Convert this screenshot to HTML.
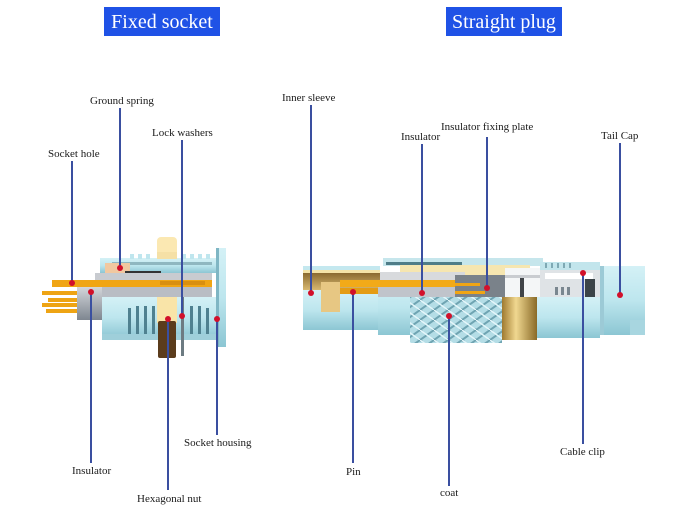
<!DOCTYPE html>
<html><head><meta charset="utf-8"><style>
html,body{margin:0;padding:0;background:#fff;}
svg{display:block;}
.l{font-family:"Liberation Serif",serif;font-size:11px;fill:#1a1a1a;}
.h{font-family:"Liberation Serif",serif;font-size:20px;fill:#fff;}
.ln{stroke:#3a4fa0;stroke-width:2;}
.d{fill:#d2102a;}
</style></head><body>
<svg width="680" height="509" viewBox="0 0 680 509" xmlns="http://www.w3.org/2000/svg">
<defs>
<linearGradient id="blu" x1="0" y1="0" x2="0" y2="1"><stop offset="0" stop-color="#d4f1f6"/><stop offset="0.5" stop-color="#bde6ee"/><stop offset="1" stop-color="#8cc6d3"/></linearGradient>
<linearGradient id="gry" x1="0" y1="0" x2="0" y2="1"><stop offset="0" stop-color="#d3d6da"/><stop offset="1" stop-color="#7e8690"/></linearGradient>
<linearGradient id="brs" x1="0" y1="0" x2="1" y2="0"><stop offset="0" stop-color="#a07a30"/><stop offset="0.4" stop-color="#f0d890"/><stop offset="1" stop-color="#8a6a28"/></linearGradient>
<linearGradient id="gold" x1="0" y1="0" x2="0" y2="1"><stop offset="0" stop-color="#8a6a30"/><stop offset="1" stop-color="#d8b870"/></linearGradient>
<pattern id="knurl" width="14" height="10" patternUnits="userSpaceOnUse">
<rect width="14" height="10" fill="#b4dde6"/>
<path d="M0 10 L14 0 M-3 3 L4 -2 M10 12 L17 7" stroke="#6fa4b2" stroke-width="2"/>
<path d="M0 0 L14 10" stroke="#e4f6fa" stroke-width="1.5"/>
</pattern>
</defs>

<!-- headers -->
<rect x="104" y="7" width="116" height="29" fill="#1f52e6"/>
<text class="h" x="162" y="28" text-anchor="middle">Fixed socket</text>
<rect x="446" y="7" width="116" height="29" fill="#1f52e6"/>
<text class="h" x="504" y="28" text-anchor="middle">Straight plug</text>

<!-- ============ FIXED SOCKET ============ -->
<!-- hex nut top -->
<rect x="157" y="237" width="20" height="22" rx="4" fill="#fbe8b2"/>
<!-- housing top thread -->
<rect x="100" y="258" width="122" height="15" fill="url(#blu)"/>
<g fill="#bfe6ee">
<rect x="130" y="254" width="4" height="5"/><rect x="138" y="254" width="4" height="5"/><rect x="146" y="254" width="4" height="5"/>
<rect x="182" y="254" width="4" height="5"/><rect x="190" y="254" width="4" height="5"/><rect x="198" y="254" width="4" height="5"/><rect x="206" y="254" width="4" height="5"/>
</g>
<rect x="157" y="252" width="20" height="7" fill="#f5e0a6"/>
<rect x="112" y="262" width="100" height="3" fill="#8fb7c0"/>
<rect x="105" y="263" width="25" height="10" fill="#f1c8a0"/>
<rect x="125" y="271" width="36" height="2" fill="#333"/>
<!-- right flange -->
<rect x="216" y="248" width="10" height="99" fill="url(#blu)"/>
<rect x="216" y="248" width="3" height="99" fill="#7fb6c4"/>
<!-- gray band -->
<rect x="95" y="273" width="117" height="7" fill="#c8cbd0"/>
<!-- orange contact bar -->
<rect x="52" y="280" width="160" height="7" fill="#f0a514"/>
<rect x="160" y="281" width="45" height="4" fill="#d98f10"/>
<!-- insulator strip -->
<rect x="77" y="287" width="135" height="10" fill="#b9bdc4"/>
<!-- insulator block -->
<rect x="77" y="287" width="25" height="33" fill="url(#gry)"/>
<!-- pins -->
<g fill="#eea414">
<rect x="42" y="291" width="35" height="4"/>
<rect x="48" y="298" width="29" height="4"/>
<rect x="42" y="303" width="35" height="4"/>
<rect x="46" y="309" width="31" height="4"/>
</g>
<!-- lower housing -->
<rect x="102" y="297" width="114" height="41" fill="url(#blu)"/>
<g fill="#4f8190">
<rect x="128" y="308" width="3" height="30"/><rect x="136" y="306" width="3" height="32"/>
<rect x="144" y="306" width="3" height="32"/><rect x="152" y="306" width="3" height="32"/>
<rect x="190" y="306" width="3" height="32"/><rect x="198" y="306" width="3" height="32"/>
<rect x="206" y="308" width="3" height="30"/>
</g>
<rect x="102" y="334" width="114" height="6" fill="#9fcfda"/>
<!-- hex nut lower -->
<rect x="157" y="297" width="20" height="26" fill="#f9e4a8"/>
<rect x="158" y="321" width="18" height="37" rx="2" fill="#5b3c1c"/>
<!-- lock washer -->
<rect x="181" y="297" width="3" height="59" fill="#6d7b82"/>

<!-- socket connectors -->
<line class="ln" x1="120" y1="108" x2="120" y2="268"/>
<line class="ln" x1="182" y1="140" x2="182" y2="316"/>
<line class="ln" x1="72" y1="161" x2="72" y2="283"/>
<line class="ln" x1="91" y1="292" x2="91" y2="463"/>
<line class="ln" x1="168" y1="319" x2="168" y2="490"/>
<line class="ln" x1="217" y1="319" x2="217" y2="435"/>
<circle class="d" cx="72" cy="283" r="3"/>
<circle class="d" cx="120" cy="268" r="3"/>
<circle class="d" cx="91" cy="292" r="3"/>
<circle class="d" cx="168" cy="319" r="3"/>
<circle class="d" cx="182" cy="316" r="3"/>
<circle class="d" cx="217" cy="319" r="3"/>

<text class="l" x="90" y="104">Ground spring</text>
<text class="l" x="152" y="136">Lock washers</text>
<text class="l" x="48" y="157">Socket hole</text>
<text class="l" x="72" y="474">Insulator</text>
<text class="l" x="137" y="502">Hexagonal nut</text>
<text class="l" x="184" y="446">Socket housing</text>

<!-- ============ STRAIGHT PLUG ============ -->
<!-- top structure -->
<rect x="383" y="258" width="160" height="8" fill="#c6e6ec"/>
<rect x="386" y="262" width="76" height="3" fill="#4f7d88"/>
<rect x="400" y="265" width="130" height="10" fill="#f6e6b0"/>
<rect x="375" y="272" width="90" height="9" fill="#d8dadd"/>
<!-- left front tube -->
<rect x="303" y="266" width="77" height="6" fill="#c4e8ef"/>
<rect x="303" y="270" width="77" height="3" fill="#f4e4a8"/>
<rect x="303" y="273" width="77" height="17" fill="url(#gold)"/>
<rect x="303" y="290" width="77" height="40" fill="url(#blu)"/>
<!-- inner cream block -->
<rect x="321" y="282" width="19" height="30" fill="#e7c783"/>
<!-- middle tube -->
<rect x="378" y="281" width="34" height="54" fill="url(#blu)"/>
<!-- orange pin bars -->
<rect x="340" y="280" width="130" height="7" fill="#f2aa18"/>
<rect x="340" y="288" width="38" height="6" fill="#e49c14"/>
<!-- insulator -->
<rect x="378" y="287" width="77" height="10" fill="#c0c4cb"/>
<!-- dark interior -->
<rect x="455" y="275" width="50" height="22" fill="#7a828a"/>
<rect x="455" y="283" width="25" height="3" fill="#f0a514"/>
<rect x="455" y="291" width="30" height="3" fill="#f0a514"/>
<rect x="505" y="268" width="38" height="29" fill="#f4f6f7"/>
<rect x="520" y="276" width="4" height="21" fill="#404448"/>
<rect x="505" y="275" width="38" height="3" fill="#c9ccd0"/>
<!-- coat knurled -->
<rect x="410" y="297" width="92" height="46" fill="url(#knurl)"/>
<!-- brass -->
<rect x="502" y="297" width="35" height="43" fill="url(#brs)"/>
<!-- right tube -->
<rect x="537" y="297" width="63" height="41" fill="url(#blu)"/>
<!-- upper right area -->
<rect x="540" y="262" width="60" height="8" fill="#c2e5ec"/>
<g fill="#7fa9b4"><rect x="545" y="263" width="2" height="5"/><rect x="551" y="263" width="2" height="5"/><rect x="557" y="263" width="2" height="5"/><rect x="563" y="263" width="2" height="5"/><rect x="569" y="263" width="2" height="5"/></g>
<rect x="540" y="270" width="60" height="27" fill="#dfe3e6"/>
<rect x="545" y="273" width="48" height="6" fill="#ffffff"/>
<rect x="585" y="279" width="10" height="18" fill="#3c4448"/>
<g fill="#7a8790"><rect x="555" y="287" width="3" height="8"/><rect x="561" y="287" width="3" height="8"/><rect x="567" y="287" width="3" height="8"/></g>
<!-- tail cap -->
<rect x="600" y="266" width="45" height="69" fill="url(#blu)"/>
<rect x="600" y="266" width="4" height="69" fill="#9ccad6"/>
<rect x="630" y="320" width="15" height="15" fill="#a8d6e0"/>

<!-- plug connectors -->
<line class="ln" x1="311" y1="105" x2="311" y2="293"/>
<line class="ln" x1="422" y1="144" x2="422" y2="293"/>
<line class="ln" x1="487" y1="137" x2="487" y2="288"/>
<line class="ln" x1="620" y1="143" x2="620" y2="295"/>
<line class="ln" x1="353" y1="292" x2="353" y2="463"/>
<line class="ln" x1="449" y1="316" x2="449" y2="486"/>
<line class="ln" x1="583" y1="273" x2="583" y2="444"/>
<circle class="d" cx="311" cy="293" r="3"/>
<circle class="d" cx="353" cy="292" r="3"/>
<circle class="d" cx="422" cy="293" r="3"/>
<circle class="d" cx="487" cy="288" r="3"/>
<circle class="d" cx="449" cy="316" r="3"/>
<circle class="d" cx="583" cy="273" r="3"/>
<circle class="d" cx="620" cy="295" r="3"/>

<text class="l" x="282" y="101">Inner sleeve</text>
<text class="l" x="401" y="140">Insulator</text>
<text class="l" x="441" y="130">Insulator fixing plate</text>
<text class="l" x="601" y="139">Tail Cap</text>
<text class="l" x="346" y="475">Pin</text>
<text class="l" x="440" y="496">coat</text>
<text class="l" x="560" y="455">Cable clip</text>
</svg>
</body></html>
